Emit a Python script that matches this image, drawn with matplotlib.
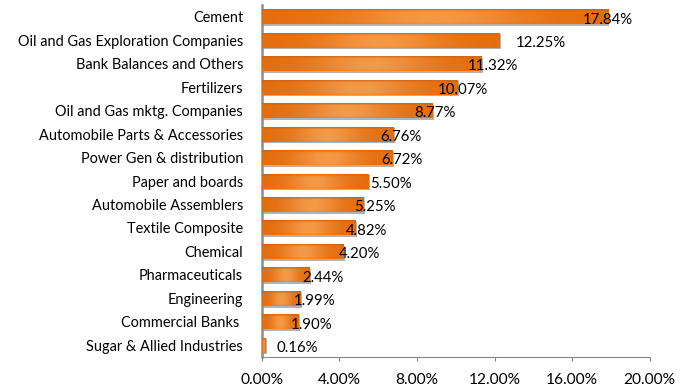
import matplotlib.pyplot as plt
import matplotlib.patheffects as pe
import numpy as np

plt.rcParams["font.family"] = ["Lato", "DejaVu Sans"]

sectors = [
    "Cement",
    "Oil and Gas Exploration Companies",
    "Bank Balances and Others",
    "Fertilizers",
    "Oil and Gas mktg. Companies",
    "Automobile Parts & Accessories",
    "Power Gen & distribution",
    "Paper and boards",
    "Automobile Assemblers",
    "Textile Composite",
    "Chemical",
    "Pharmaceuticals",
    "Engineering",
    "Commercial Banks ",
    "Sugar & Allied Industries",
]
weights = [17.84, 12.25, 11.32, 10.07, 8.77, 6.76, 6.72, 5.50,
           5.25, 4.82, 4.20, 2.44, 1.99, 1.90, 0.16]
xticks = [0, 4, 8, 12, 16, 20]

# hand-placed label shifts (points, right of bar end)
label_shift = [0, 30, 8, 4, 2, 6, 7, 16, 8, 8, 12, 10, 10, 9, 23]

EDGE = np.array([0.89, 0.43, 0.06])
LIGHT = np.array([0.96, 0.60, 0.28])
TOP = np.array([0.80, 0.37, 0.05])


def bar_texture(nx=200, ny=40):
    # soft light streak in the middle of the bar, darker band on top
    x = np.linspace(-1, 1, nx)
    hx = np.exp(-(x / 0.5) ** 2)
    img = EDGE[None, None, :] + (LIGHT - EDGE)[None, None, :] * hx[None, :, None]
    img = np.repeat(img, ny, axis=0)
    y = np.linspace(0, 1, ny)
    top = np.clip((0.22 - y) / 0.22, 0, 1)
    img = img * (1 - top[:, None, None]) + TOP[None, None, :] * top[:, None, None]
    bot = np.clip((y - 0.85) / 0.15, 0, 1) * 0.25
    img = img * (1 - bot[:, None, None]) + EDGE[None, None, :] * bot[:, None, None]
    return np.clip(img, 0, 1)


fig = plt.figure(figsize=(6.89, 3.87), dpi=100)
ax = fig.add_axes([0.380, 0.0775, 0.563, 0.9095])

pos = np.arange(len(sectors))
bars = ax.barh(pos, weights, height=0.64, color="#E46C0A", zorder=2)
tex = bar_texture()
for b in bars:
    b.set_path_effects([pe.SimplePatchShadow(offset=(1.2, -1.2), shadow_rgbFace="#9a8f86", alpha=0.7),
                        pe.Normal()])
    x0, y0 = b.get_x(), b.get_y()
    w, h = b.get_width(), b.get_height()
    im = ax.imshow(tex, extent=[x0, x0 + w, y0 + h, y0], aspect="auto",
                   origin="upper", zorder=3, interpolation="bilinear")
    im.set_clip_path(b)

for p, v, s in zip(pos, weights, label_shift):
    ax.annotate(f"{v:.2f}%", (v, p), xytext=(s, -2), textcoords="offset points",
                ha="center", va="center", fontsize=10.8, color="#000000", zorder=4)

ax.set_xlim(0, 20)
ax.set_ylim(len(sectors) - 0.5, -0.5)
ax.set_xticks(xticks)
ax.set_xticklabels([f"{t:.2f}%" for t in xticks])
ax.set_yticks(pos)
ax.set_yticklabels(sectors)
ax.tick_params(axis="y", length=0, pad=13.5, labelsize=10.45)
ax.tick_params(axis="x", length=3, width=0.8, color="#868686", pad=8.5, labelsize=11.2)
for side in ["top", "right"]:
    ax.spines[side].set_visible(False)
ax.spines["left"].set_color("#8c8c8c")
ax.spines["left"].set_linewidth(1.8)
ax.spines["bottom"].set_color("#868686")
ax.spines["bottom"].set_linewidth(0.8)

fig.savefig("out.png", dpi=100)
